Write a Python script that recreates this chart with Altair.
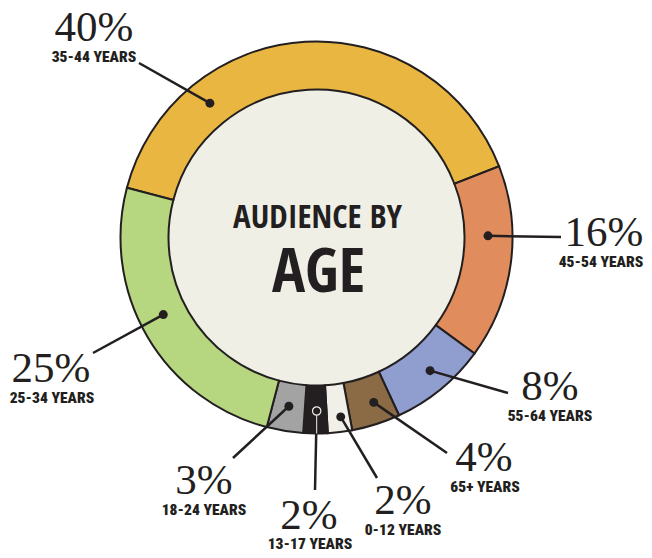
import math
import altair as alt
import pandas as pd

# ---- data ----
ages = ["35-44", "45-54", "55-64", "65+", "0-12", "13-17", "18-24", "25-34"]
shares = [40, 16, 8, 4, 2, 2, 3, 25]
colors = ["#E9B642", "#E08C5C", "#8F9ECF", "#8A6B45", "#F1F0E8", "#231F20", "#A3A3A3", "#B6D77F"]
title_lines = ["AUDIENCE BY", "AGE"]

# ---- layout (page pixel coordinates) ----
CX, CY = 316.5, 237.5
R_IN, R_OUT = 148, 196
START_DEG = -75.3
dot_frac = [0.256, 0.36, 0.46, 0.40, 0.39, 0.45, 0.50, 0.54]
dot_r = [171.5, 171.5, 175, 174.5, 181, 173.5, 171, 171.5]
line_end = [(139, 63), (561, 237), (508, 393), (447, 453), (377, 478), (315, 490), (233, 458), (93, 353)]
big_pos = [(94, 41), (604, 246), (550, 400), (484, 471), (403, 514), (309, 529), (204, 494), (51, 382)]
sub_pos = [(94, 62), (601, 267), (550, 421), (485, 492), (403, 535), (310, 549), (204, 515), (52, 403)]
title_pos = [(317.5, 228), (318.5, 292)]

W, H = 636, 542
SERIF = "Liberation Serif"
COND_SUB = "Roboto Condensed"
COND_TITLE = "Open Sans Condensed"
INK = "#231F20"

seg = pd.DataFrame({"age": ages, "share": shares, "idx": list(range(len(ages)))})

# dot positions derived from the stacked shares
total = sum(shares)
rows = []
cum = 0
for i, (a, s) in enumerate(zip(ages, shares)):
    ang = math.radians(START_DEG + (cum + dot_frac[i] * s) / total * 360)
    cum += s
    rows.append(dict(age=a, pct=f"{s}%", sub=f"{a} YEARS",
                     dx=CX + dot_r[i] * math.sin(ang), dy=CY - dot_r[i] * math.cos(ang),
                     ex=line_end[i][0], ey=line_end[i][1],
                     bx=big_pos[i][0], by=big_pos[i][1], sx=sub_pos[i][0], sy=sub_pos[i][1],
                     hollow=(a == "13-17"),
                     rx=CX + R_OUT * math.sin(ang), ry=CY - R_OUT * math.cos(ang)))
ann = pd.DataFrame(rows)

xs = alt.Scale(domain=[8, 8 + W], range=[0, W], zero=False, nice=False)
ys = alt.Scale(domain=[8, 8 + H], range=[0, H], zero=False, nice=False)


def X(f):
    return alt.X(f, scale=xs, axis=None)


def Y(f):
    return alt.Y(f, scale=ys, axis=None)


center = dict(x=alt.value(CX - 8), y=alt.value(CY - 8))

disk = alt.Chart(pd.DataFrame({"v": [1]})).mark_arc(
    radius=R_IN, innerRadius=0, color="#EFEFE6"
).encode(theta=alt.Theta("v:Q", scale=alt.Scale(range=[0, 2 * math.pi])), **center)

ring = alt.Chart(seg).mark_arc(
    radius=R_OUT, innerRadius=R_IN, stroke=INK, strokeWidth=2
).encode(
    theta=alt.Theta("share:Q", stack=True,
                    scale=alt.Scale(range=[math.radians(START_DEG), math.radians(START_DEG) + 2 * math.pi])),
    order=alt.Order("idx:Q"),
    color=alt.Color("age:N", scale=alt.Scale(domain=ages, range=colors), legend=None),
    **center,
)

lines = alt.Chart(ann).mark_rule(color=INK, strokeWidth=2.5).encode(
    x=X("dx:Q"), y=Y("dy:Q"), x2="ex:Q", y2="ey:Q")

inner_line = alt.Chart(ann).transform_filter("datum.hollow").mark_rule(
    color="#F1F0E8", strokeWidth=1
).encode(x=X("dx:Q"), y=Y("dy:Q"), x2="rx:Q", y2="ry:Q")

dots = alt.Chart(ann).transform_filter("!datum.hollow").mark_circle(
    size=80, color=INK, opacity=1
).encode(x=X("dx:Q"), y=Y("dy:Q"))

hollow = alt.Chart(ann).transform_filter("datum.hollow").mark_point(
    shape="circle", size=70, filled=True, fill=INK, stroke="#F1F0E8", strokeWidth=1.2, opacity=1
).encode(x=X("dx:Q"), y=Y("dy:Q"))

big = alt.Chart(ann).mark_text(
    font=SERIF, fontSize=43, color=INK, align="center", baseline="alphabetic"
).encode(x=X("bx:Q"), y=Y("by:Q"), text="pct:N")

sub = alt.Chart(ann).mark_text(
    font=COND_SUB, fontSize=15.5, fontWeight=900, color=INK, align="center", baseline="alphabetic"
).encode(x=X("sx:Q"), y=Y("sy:Q"), text="sub:N")

titles = pd.DataFrame({"t": title_lines, "tx": [p[0] for p in title_pos], "ty": [p[1] for p in title_pos]})
title1 = alt.Chart(titles).transform_filter(f"datum.t == '{title_lines[0]}'").mark_text(
    font=COND_TITLE, fontSize=33, fontWeight=900, color=INK, align="center", baseline="alphabetic"
).encode(x=X("tx:Q"), y=Y("ty:Q"), text="t:N")
title2 = alt.Chart(titles).transform_filter(f"datum.t == '{title_lines[1]}'").mark_text(
    font=COND_TITLE, fontSize=62, fontWeight=900, color=INK, align="center", baseline="alphabetic"
).encode(x=X("tx:Q"), y=Y("ty:Q"), text="t:N")

chart = alt.layer(disk, ring, lines, inner_line, dots, hollow, big, sub, title1, title2).resolve_scale(
    theta="independent"
).properties(
    width=W, height=H, padding=0, autosize=alt.AutoSizeParams(type="none"), background="white"
).configure_view(stroke=None)

chart.save("out.html", embed_options={"renderer": "svg", "actions": False})
